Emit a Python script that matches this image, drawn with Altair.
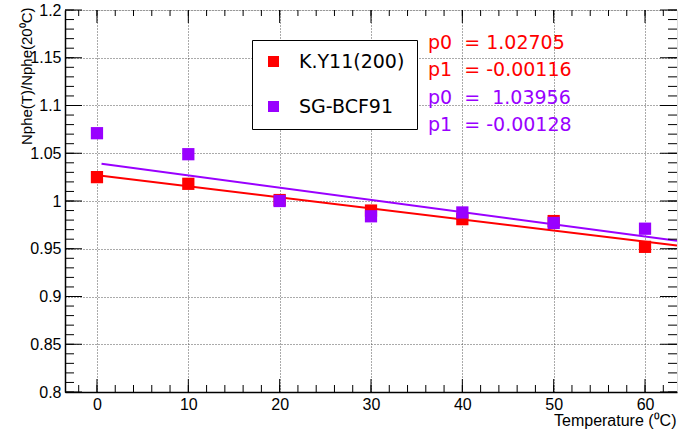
import altair as alt
import pandas as pd

# ---- data ----
temps = [0, 10, 20, 30, 40, 50, 60]
ky11_vals = [1.025, 1.018, 1.001, 0.990, 0.981, 0.979, 0.952]
bcf91_vals = [1.071, 1.049, 1.000, 0.984, 0.988, 0.977, 0.971]
series_names = ["K.Y11(200)", "SG-BCF91"]
series_colors = ["#ff0000", "#9900ff"]
fit_p0 = [1.02705, 1.03956]
fit_p1 = [-0.00116, -0.00128]
fit_x_range = [0.5, 63.5]
NB = "\u00a0"
fit_texts = [
    ["p0" + NB * 2 + "=" + NB + "1.02705", "p1" + NB * 2 + "=" + NB + "-0.00116"],
    ["p0" + NB * 2 + "=" + NB * 2 + "1.03956", "p1" + NB * 2 + "=" + NB + "-0.00128"],
]

x_major = [0, 10, 20, 30, 40, 50, 60]
x_minor = list(range(-2, 64, 2))
y_major = [0.8, 0.85, 0.9, 0.95, 1.0, 1.05, 1.1, 1.15, 1.2]
y_minor = [round(0.8 + 0.01 * i, 2) for i in range(41)]

W, H = 612, 382

# ---- tables ----
pts = pd.DataFrame(
    {"series": [series_names[0]] * len(temps) + [series_names[1]] * len(temps),
     "temp": temps + temps,
     "value": ky11_vals + bcf91_vals}
)
fit_rows = []
for name, p0, p1 in zip(series_names, fit_p0, fit_p1):
    for xv in fit_x_range:
        fit_rows.append({"series": name, "temp": xv, "value": p0 + p1 * xv})
fits = pd.DataFrame(fit_rows)

xs = alt.Scale(domain=[-3.5, 63.5], nice=False, zero=False)
ys = alt.Scale(domain=[0.8, 1.2], nice=False, zero=False)
cs = alt.Scale(domain=series_names, range=series_colors)

x_axis = alt.Axis(values=x_major, title="Temperature (⁰C)", titleAnchor="end",
                  titleAlign="right", titleX=W - 1, titleY=33, titleBaseline="alphabetic",
                  titleFont="Liberation Sans", titleFontSize=16, titleFontWeight="normal",
                  titleColor="black",
                  labelFont="Liberation Sans", labelFontSize=16, labelColor="black",
                  labelPadding=4, format="d", ticks=False,
                  grid=True, gridDash=[1, 2], gridColor="#555555", gridWidth=1,
                  domainColor="black", domainWidth=1.5)
y_axis = alt.Axis(values=y_major, title="Nphe(T)/Nphe(20⁰C)", titleAngle=270,
                  titleAlign="right", titleX=-34, titleY=-3, titleBaseline="alphabetic",
                  titleFont="Liberation Sans", titleFontSize=15, titleFontWeight="normal",
                  titleColor="black",
                  labelFont="Liberation Sans", labelFontSize=16, labelColor="black",
                  labelPadding=4, labelExpr="format(datum.value, '.3~f')", ticks=False,
                  grid=True, gridDash=[1, 2], gridColor="#555555", gridWidth=1,
                  domainColor="black", domainWidth=1.5)

legend = alt.Legend(orient="none", legendX=187, legendY=30, title=None,
                    symbolType="square", symbolSize=121, symbolStrokeWidth=0,
                    labelFont="DejaVu Sans", labelFontSize=19, labelColor="black",
                    labelOffset=16, rowPadding=25, padding=12,
                    strokeColor="black", fillColor="white", direction="vertical")

X = lambda f: alt.X(f, scale=xs, axis=x_axis, title="Temperature (⁰C)")
Y = lambda f: alt.Y(f, scale=ys, axis=y_axis, title="Nphe(T)/Nphe(20⁰C)")

layers = []
for i, name in enumerate(series_names):
    pts_layer = alt.Chart(pts).transform_filter(alt.datum.series == name).mark_square(
        size=150, opacity=1, filled=True, clip=True
    ).encode(
        x=X("temp:Q"),
        y=Y("value:Q"),
        color=alt.Color("series:N", scale=cs, legend=legend),
    )
    fit_layer = alt.Chart(fits).transform_filter(alt.datum.series == name).mark_line(
        strokeWidth=2, clip=True
    ).encode(
        x=X("temp:Q"),
        y=Y("value:Q"),
        color=alt.Color("series:N", scale=cs, legend=legend),
    )
    layers += [pts_layer, fit_layer]

# ---- inward ticks (ROOT style) ----
xmin_df = pd.DataFrame({"temp": x_minor})
xmaj_df = pd.DataFrame({"temp": x_major})
ymin_df = pd.DataFrame({"value": y_minor})
ymaj_df = pd.DataFrame({"value": y_major})


def xtick(df, y0, y1):
    return alt.Chart(df).mark_rule(color="black", strokeWidth=1).encode(
        x=X("temp:Q"), y=alt.value(y0), y2=alt.value(y1))


def ytick(df, x0, x1):
    return alt.Chart(df).mark_rule(color="black", strokeWidth=1).encode(
        y=Y("value:Q"), x=alt.value(x0), x2=alt.value(x1))


ticks = [
    xtick(xmin_df, H, H - 7), xtick(xmaj_df, H, H - 13),
    xtick(xmin_df, 0, 6), xtick(xmaj_df, 0, 13),
    ytick(ymin_df, 0, 9), ytick(ymaj_df, 0, 17),
    ytick(ymin_df, W, W - 9), ytick(ymaj_df, W, W - 17),
]

# ---- fit parameter annotations ----
texts = []
row_y = [33, 60, 87.5, 115]
k = 0
for i, name in enumerate(series_names):
    for line in fit_texts[i]:
        texts.append(
            alt.Chart(pd.DataFrame({"s": [line]})).mark_text(
                align="left", baseline="middle", font="DejaVu Sans", fontSize=19,
                color=series_colors[i]
            ).encode(text="s:N", x=alt.value(363), y=alt.value(row_y[k]))
        )
        k += 1

chart = alt.layer(*layers, *ticks, *texts).properties(
    width=W, height=H,
    autosize=alt.AutoSizeParams(type="none"),
    padding={"left": 65, "top": 10, "right": 1, "bottom": 40},
).configure_view(
    stroke="black", strokeWidth=1
).configure(background="white")

chart.save("out.html", embed_options={"renderer": "svg", "actions": False})
